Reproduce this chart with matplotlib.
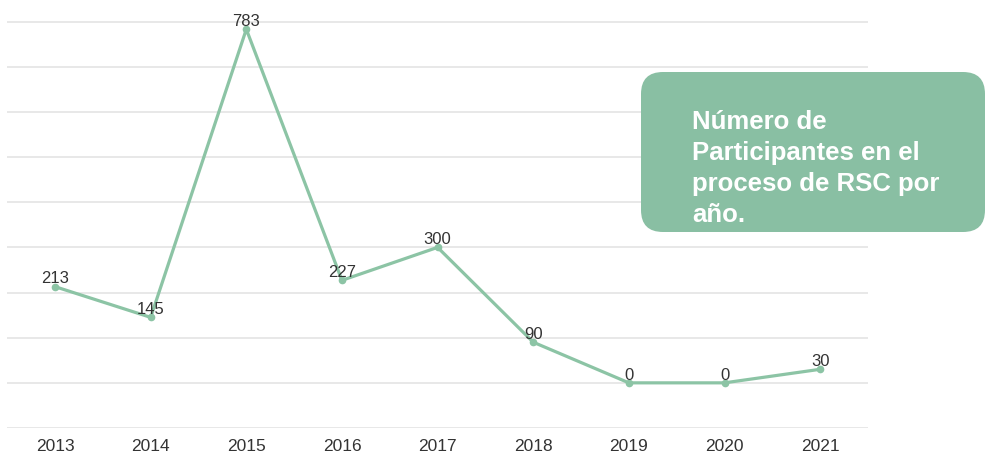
import matplotlib.pyplot as plt
from matplotlib.patches import FancyBboxPatch

# datos
years = [2013, 2014, 2015, 2016, 2017, 2018, 2019, 2020, 2021]
participants = [213, 145, 783, 227, 300, 90, 0, 0, 30]
grid_levels = list(range(-100, 801, 100))
note = "Número de\nParticipantes en el\nproceso de RSC por\naño."

line_color = "#8cc4a5"
box_color = "#89bfa3"
text_color = "#333333"

plt.rcParams["font.family"] = ["Liberation Sans", "DejaVu Sans"]

fig = plt.figure(figsize=(9.87, 4.52), dpi=100)
ax = fig.add_axes([7.2 / 987, 1 - 429 / 452, (868 - 7.2) / 987, 429 / 452])

ax.plot(years, participants, color=line_color, linewidth=2.3, marker="o",
        markersize=4.5, zorder=3)

for x, y in zip(years, participants):
    ax.annotate(str(y), (x, y), xytext=(0, 3), textcoords="offset points",
                ha="center", va="baseline", fontsize=12, color=text_color,
                zorder=4)

ax.set_xlim(2012.5, 2021.5)
ax.set_ylim(-100, 850)
ax.set_xticks(years)
ax.set_xticklabels([str(y) for y in years], fontsize=12.5, color=text_color)
ax.set_yticks(grid_levels)
ax.set_yticklabels([])
ax.tick_params(axis="both", length=0)
ax.tick_params(axis="x", pad=7)
ax.grid(axis="y", color="#e6e6e6", linewidth=1.3)
ax.set_axisbelow(True)
for s in ax.spines.values():
    s.set_visible(False)

# cuadro de texto (coordenadas en pixeles)
ov = fig.add_axes([0, 0, 1, 1])
ov.set_xlim(0, 987)
ov.set_ylim(452, 0)
ov.axis("off")
ov.patch.set_visible(False)
ov.add_patch(FancyBboxPatch((641, 73), 344, 160,
                            boxstyle="round,pad=0,rounding_size=22",
                            facecolor=box_color, edgecolor="none"))
ov.text(692, 222, note, ha="left", va="baseline", fontsize=18.5,
        fontweight="bold", color="white", linespacing=1.37)

fig.savefig("out.png", dpi=100)
